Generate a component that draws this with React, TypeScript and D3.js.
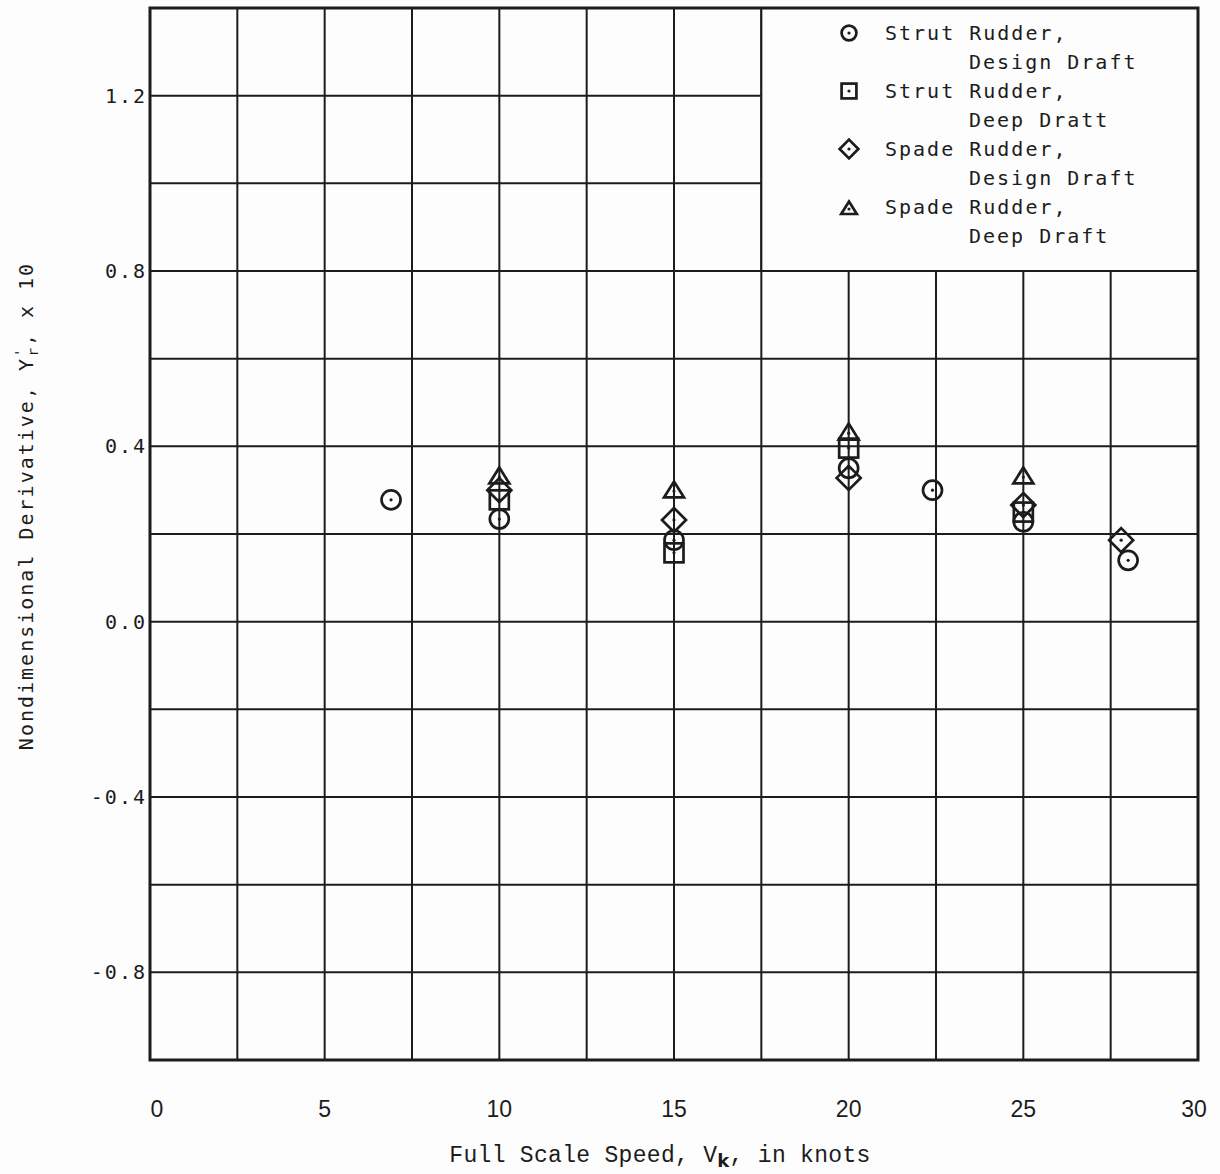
import React from "react";
import * as d3 from "d3";

const strutDesign: [number, number][] = [
  [6.9, 0.278], [10, 0.234], [15, 0.186], [20, 0.35], [22.4, 0.30], [25, 0.228], [28, 0.14],
];
const strutDeep: [number, number][] = [
  [10, 0.278], [15, 0.157], [20, 0.396], [25, 0.25],
];
const spadeDesign: [number, number][] = [
  [10, 0.30], [15, 0.232], [20, 0.328], [25, 0.266], [27.8, 0.186],
];
const spadeDeep: [number, number][] = [
  [10, 0.33], [15, 0.298], [20, 0.43], [25, 0.33],
];
const xTicks = [0, 5, 10, 15, 20, 25, 30];
const yTicks = [1.2, 0.8, 0.4, 0.0, -0.4, -0.8];
const xGrid = d3.range(0, 30.01, 2.5);
const yGrid = d3.range(-1.0, 1.401, 0.2);

const W = 1220, H = 1174;
const L = 150, R = 1198, T = 8, B = 1060;
const x = d3.scaleLinear().domain([0, 30]).range([L, R]);
const y = d3.scaleLinear().domain([-1.0, 1.4]).range([B, T]);

const INK = "#1c1c1c";
const MONO = "'DejaVu Sans Mono', monospace";

type Kind = "circle" | "square" | "diamond" | "triangle";

function Marker({ kind, cx, cy, s = 1 }: { kind: Kind; cx: number; cy: number; s?: number }) {
  const sw = 2.7;
  let shape: React.ReactNode = null;
  if (kind === "circle") shape = <circle cx={cx} cy={cy} r={9.5 * s} fill="none" stroke={INK} strokeWidth={sw} />;
  if (kind === "square") {
    const h = 9.5 * s;
    shape = <rect x={cx - h} y={cy - h} width={2 * h} height={2 * h} fill="none" stroke={INK} strokeWidth={sw} />;
  }
  if (kind === "diamond") {
    const h = 12 * s;
    shape = <path d={`M${cx},${cy - h}L${cx + h},${cy}L${cx},${cy + h}L${cx - h},${cy}Z`} fill="none" stroke={INK} strokeWidth={sw} />;
  }
  if (kind === "triangle") {
    const w = 10 * s, hh = 16 * s;
    shape = <path d={`M${cx},${cy - hh * 0.6}L${cx + w},${cy + hh * 0.4}L${cx - w},${cy + hh * 0.4}Z`} fill="none" stroke={INK} strokeWidth={sw} strokeLinejoin="miter" />;
  }
  return (
    <g>
      {shape}
      <circle cx={cx} cy={cy} r={1.6} fill={INK} />
    </g>
  );
}

const series: { kind: Kind; data: [number, number][]; l1: string; l2: string }[] = [
  { kind: "circle", data: strutDesign, l1: "Strut Rudder,", l2: "Design Draft" },
  { kind: "square", data: strutDeep, l1: "Strut Rudder,", l2: "Deep Dratt" },
  { kind: "diamond", data: spadeDesign, l1: "Spade Rudder,", l2: "Design Draft" },
  { kind: "triangle", data: spadeDeep, l1: "Spade Rudder,", l2: "Deep Draft" },
];

export default function App() {
  const legX = x(17.5);
  const legB = y(0.8);
  return (
    <svg width={W} height={H} style={{ position: "absolute", left: 0, top: 0, background: "#fdfdfd" }}>
      <rect x={0} y={0} width={W} height={H} fill="#fdfdfd" />
      {xGrid.map((v) => (
        <line key={"gx" + v} x1={x(v)} x2={x(v)} y1={T} y2={B} stroke={INK} strokeWidth={2} />
      ))}
      {yGrid.map((v) => (
        <line key={"gy" + v.toFixed(1)} x1={L} x2={R} y1={y(v)} y2={y(v)} stroke={INK} strokeWidth={2} />
      ))}
      <rect x={legX} y={T} width={R - legX} height={legB - T} fill="#fdfdfd" stroke={INK} strokeWidth={2} />
      <rect x={L} y={T} width={R - L} height={B - T} fill="none" stroke={INK} strokeWidth={3} />

      {yTicks.map((v) => (
        <text key={"yt" + v} x={147} y={y(v) + 7} textAnchor="end" fontFamily={MONO} fontSize={20} letterSpacing={2} fill={INK}>
          {v.toFixed(1)}
        </text>
      ))}
      {xTicks.map((v, i) => (
        <text key={"xt" + v} x={x(v) + (i === 0 ? 7 : i === xTicks.length - 1 ? -4 : 0)} y={1117} textAnchor="middle" fontFamily="'Liberation Sans', sans-serif" fontSize={23} fill={INK}>
          {v}
        </text>
      ))}

      <text x={660} y={1162} textAnchor="middle" fontFamily="'Liberation Mono', 'Courier New', monospace" fontSize={23} letterSpacing={0.3} fill={INK}>
        Full Scale Speed, V<tspan dy={5} fontSize={18} fontFamily="'DejaVu Sans', sans-serif" fontWeight="bold">k</tspan>
        <tspan dy={-5}>, in knots</tspan>
      </text>

      <text transform="translate(33,506) rotate(-90)" textAnchor="middle" fontFamily={MONO} fontSize={20} letterSpacing={2} fill={INK}>
        Nondimensional Derivative, Y<tspan dy={-8} fontSize={14}>'</tspan>
        <tspan dx={-10} dy={13} fontSize={14}>r</tspan>
        <tspan dy={-5}>, x 10</tspan>
      </text>

      {series.map((s) =>
        s.data.map(([a, b], i) => <Marker key={s.kind + i} kind={s.kind} cx={x(a)} cy={y(b)} />)
      )}

      {series.map((s, i) => {
        const base = 40 + i * 58;
        return (
          <g key={"lg" + i}>
            <Marker kind={s.kind} cx={849} cy={base - 7 + (s.kind === "triangle" ? 2 : 0)} s={0.78} />
            <text x={885} y={base} fontFamily={MONO} fontSize={20} letterSpacing={2} fill={INK}>{s.l1}</text>
            <text x={885 + 6 * 14} y={base + 29} fontFamily={MONO} fontSize={20} letterSpacing={2} fill={INK}>{s.l2}</text>
          </g>
        );
      })}
    </svg>
  );
}
